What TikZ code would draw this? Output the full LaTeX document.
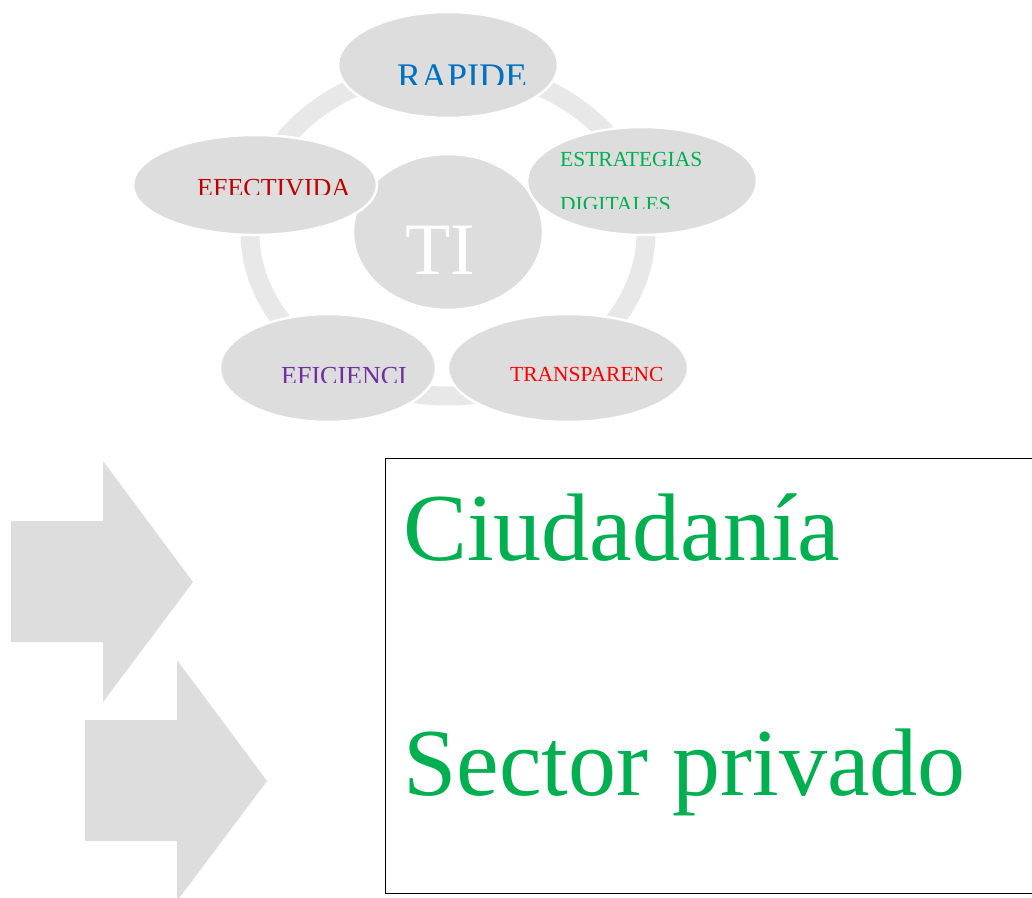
\documentclass[tikz,border=0pt]{standalone}
\usepackage{fontspec}
\setmainfont{Liberation Serif}
\usetikzlibrary{positioning,shapes.geometric}
\definecolor{petalgray}{HTML}{DDDDDD}
\definecolor{ringgray}{HTML}{E8E8E8}
\definecolor{rapblue}{HTML}{0070C0}
\definecolor{efred}{HTML}{C00000}
\definecolor{digigreen}{HTML}{00B050}
\definecolor{efpurple}{HTML}{7030A0}
\definecolor{trred}{HTML}{FF0000}
\tikzset{
  petal/.style={ellipse,fill=petalgray,draw=white,line width=2.5pt,inner sep=0pt},
  ring/.style={draw=ringgray,line width=19pt},
  lbl/.style={anchor=base west,inner sep=0pt},
  blockarrow/.style={fill=petalgray},
  sidebox/.style={draw=black,line width=0.8pt},
  bigtxt/.style={lbl,text=digigreen,font=\fontsize{96}{110}\selectfont},
}

\begin{document}
\begin{tikzpicture}[x=1pt,y=-1pt]
  \useasboundingbox (0,0) rectangle (1032,897);
  % ring and petals
  \draw[ring] (448,232) ellipse [x radius=198,y radius=164];
  \node[petal,minimum width=190pt,minimum height=156pt] (ti) at (448,232) {};
  \node[petal,minimum width=220pt,minimum height=106pt] (prap) at (448,65) {};
  \node[petal,minimum width=244pt,minimum height=100pt] (pefe) at (255,185) {};
  \node[petal,minimum width=230pt,minimum height=108pt] (pest) at (642,181) {};
  \node[petal,minimum width=216pt,minimum height=108pt] (peff) at (328,368) {};
  \node[petal,minimum width=240pt,minimum height=108pt] (ptra) at (568,368) {};

  \node[lbl,text=white,font=\fontsize{74}{80}\selectfont] (tilbl) at (405,274) {TI};

  % labels, cut at the bottom
  \begin{scope}
    \clip (380,40) rectangle (560,84);
    \node[lbl,text=rapblue,font=\fontsize{36}{40}\selectfont] (rapide) at (397,88.5) {RAPIDE};
  \end{scope}
  \begin{scope}
    \clip (180,160) rectangle (370,194);
    \node[lbl,text=efred,font=\fontsize{26}{30}\selectfont] (efect) at (197,196.2) {EFECTIVIDA};
  \end{scope}
  \begin{scope}
    \clip (550,130) rectangle (750,208);
    \node[lbl,text=digigreen,font=\fontsize{21.5}{26}\selectfont] (estr) at (560,166.2) {ESTRATEGIAS};
    \node[lbl,text=digigreen,font=\fontsize{21.5}{26}\selectfont] (digi) at (560,211.2) {DIGITALES};
  \end{scope}
  \begin{scope}
    \clip (270,345) rectangle (430,382);
    \node[lbl,text=efpurple,font=\fontsize{26}{30}\selectfont] (efic) at (281,384) {EFICIENCI};
  \end{scope}
  \begin{scope}
    \clip (500,345) rectangle (680,380);
    \node[lbl,text=trred,font=\fontsize{21.5}{26}\selectfont] (transp) at (510,381) {TRANSPARENC};
  \end{scope}

  % arrows
  \foreach \dx/\dy in {0/0,74/199}
    \fill[blockarrow,shift={(\dx,\dy)}] (11,521) -- (103,521) -- (103,461) -- (193,582)
      -- (103,702) -- (103,642) -- (11,642) -- cycle;

  % box
  \draw[sidebox] (385,458) rectangle (1036,893);
  \node[bigtxt] (ciud) at (403,560) {Ciudadanía};
  \node[bigtxt] (sector) at (403,795) {Sector privado};
\end{tikzpicture}
\end{document}
